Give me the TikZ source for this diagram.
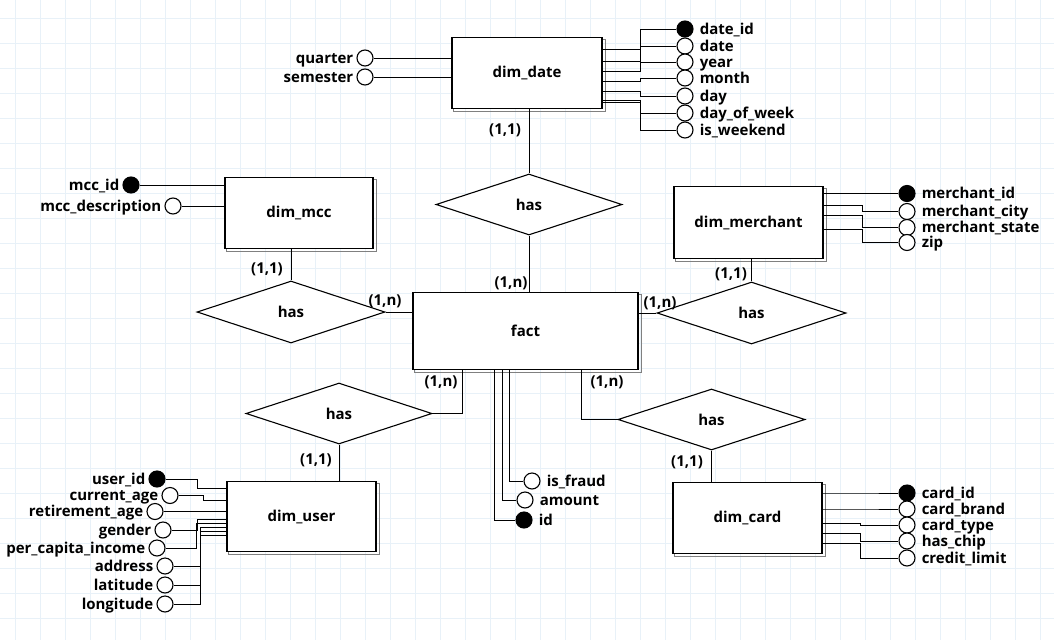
\documentclass[tikz,border=0pt]{standalone}
\usepackage{fontspec}
\IfFontExistsTF{Noto Sans Bold}
  {\setmainfont{Noto Sans}[BoldFont={Noto Sans Bold}]}
  {\IfFontExistsTF{Open Sans Bold}
    {\setmainfont{Open Sans}[BoldFont={Open Sans Bold}]}
    {\setmainfont{Noto Sans}[BoldFont={Noto Sans}, BoldFeatures={FakeBold=2}]}}
\usetikzlibrary{shapes.geometric}
\definecolor{gridblue}{RGB}{232,241,248}
\newcommand\erfont{\fontsize{15pt}{17pt}\bfseries\selectfont}
\pgfdeclarelayer{paper}
\pgfdeclarelayer{shadowlayer}
\pgfsetlayers{paper,shadowlayer,main}

% attribute on the right / left of its owner: style, name, position, label
\newcommand\rattr[4]{\node[#1] (#2) at (#3) {};
  \node[lbl, anchor=west] (#2-l) at ([xshift=6pt]#2.east) {#4};}
\newcommand\lattr[4]{\node[#1] (#2) at (#3) {};
  \node[lbl, anchor=east] (#2-l) at ([xshift=-3pt]#2.west) {#4};}
% orthogonal attribute link: owner, y at owner, x of the vertical run, attribute
\newcommand\rlink[4]{\draw[link] (#1.east |- 0,#2) -- (#3,#2) |- (#4.west);}
\newcommand\llink[4]{\draw[link] (#1.west |- 0,#2) -- (#3,#2) |- (#4.east);}
% grey drop outline behind an entity
\newcommand\entshadow[1]{\begin{pgfonlayer}{shadowlayer}
  \draw[shade] ([shift={(2.5,2.5)}]#1.south west) rectangle ([shift={(2.5,2.5)}]#1.north east);
  \end{pgfonlayer}}

\begin{document}
\begin{tikzpicture}[x=1pt,y=-1pt,
  every node/.style={font=\erfont},
  link/.style={line width=1pt},
  gridline/.style={draw=gridblue, line width=1pt},
  entity/.style={draw, fill=white, line width=1.2pt, inner sep=0pt},
  shade/.style={draw=black!50, line width=1pt},
  rel/.style={diamond, draw, line width=1.1pt, inner sep=0pt, fill=white},
  attr/.style={circle, draw, line width=1.1pt, fill=white, minimum size=16pt, inner sep=0pt},
  keyattr/.style={attr, fill=black},
  lbl/.style={inner sep=0pt, text height=10pt, text depth=3pt, yshift=-1.5pt},
  cardlbl/.style={inner sep=0pt}
]
\useasboundingbox (0,0) rectangle (1054,640);

% squared paper
\begin{pgfonlayer}{paper}
\fill[white] (0,0) rectangle (1054,640);
\foreach \x in {15,40,...,1040} \draw[gridline] (\x,0) -- (\x,640);
\foreach \y in {18,43,...,630} \draw[gridline] (0,\y) -- (1054,\y);
\end{pgfonlayer}

% entities
\node[entity, minimum width=150pt, minimum height=71pt] (ddate) at (527,73) {dim\_date};
\node[entity, minimum width=148pt, minimum height=71pt] (dmcc) at (299,213) {dim\_mcc};
\node[entity, minimum width=149pt, minimum height=72pt] (dmer) at (748.5,222.5) {dim\_merchant};
\node[entity, minimum width=225pt, minimum height=77pt] (fact) at (525.5,331) {fact};
\node[entity, minimum width=149pt, minimum height=70pt] (duser) at (301.5,516.5) {dim\_user};
\node[entity, minimum width=149pt, minimum height=71pt] (dcard) at (747.5,518) {dim\_card};
\entshadow{ddate}\entshadow{dmcc}\entshadow{dmer}
\entshadow{fact}\entshadow{duser}\entshadow{dcard}

% relationships
\node[rel, minimum width=186pt, minimum height=61pt] (rdate) at (529,204.5) {has};
\node[rel, minimum width=188pt, minimum height=62pt] (rmcc) at (291,312) {has};
\node[rel, minimum width=189pt, minimum height=62pt] (rmer) at (751.5,313) {has};
\node[rel, minimum width=186pt, minimum height=61pt] (ruser) at (339,413.5) {has};
\node[rel, minimum width=187pt, minimum height=61pt] (rcard) at (711.5,419.5) {has};

\draw[link] (rdate.north |- ddate.south) -- (rdate.north);
\draw[link] (rdate.south) -- (rdate.south |- fact.north);
\draw[link] (rmcc.north |- dmcc.south) -- (rmcc.north);
\draw[link] (rmcc.east) -- (rmcc.east -| fact.west);
\draw[link] (rmer.north |- dmer.south) -- (rmer.north);
\draw[link] (rmer.west -| fact.east) -- (rmer.west);
\draw[link] (fact.south -| 462,0) |- (ruser.east);
\draw[link] (fact.south -| 581,0) |- (rcard.west);
\draw[link] (ruser.south) -- (ruser.south |- duser.north);
\draw[link] (rcard.south) -- (rcard.south |- dcard.north);

% cardinalities
\node[cardlbl] (k1) at (505,130) {(1,1)};
\node[cardlbl] (k2) at (511,283) {(1,n)};
\node[cardlbl] (k3) at (267,269) {(1,1)};
\node[cardlbl] (k4) at (385,301) {(1,n)};
\node[cardlbl] (k5) at (731,274) {(1,1)};
\node[cardlbl] (k6) at (660,303) {(1,n)};
\node[cardlbl] (k7) at (441,382) {(1,n)};
\node[cardlbl] (k8) at (607,382) {(1,n)};
\node[cardlbl] (k9) at (316,460) {(1,1)};
\node[cardlbl] (k10) at (687,462) {(1,1)};

% dim_date attributes
\lattr{attr}{a_quarter}{365,58}{quarter}
\lattr{attr}{a_semester}{365,77}{semester}
\draw[link] (a_quarter.east) -- (a_quarter.east -| ddate.west);
\draw[link] (a_semester.east) -- (a_semester.east -| ddate.west);
\rattr{keyattr}{a_dateid}{685,29}{date\_id}
\rattr{attr}{a_date}{685,46}{date}
\rattr{attr}{a_year}{685,62}{year}
\rattr{attr}{a_month}{685,78}{month}
\rattr{attr}{a_day}{685,96}{day}
\rattr{attr}{a_dow}{685,113}{day\_of\_week}
\rattr{attr}{a_wkend}{685,130}{is\_weekend}
\rlink{ddate}{49}{640}{a_dateid}
\rlink{ddate}{61}{640}{a_date}
\rlink{ddate}{71}{640}{a_year}
\rlink{ddate}{81}{640}{a_month}
\rlink{ddate}{91}{640}{a_day}
\rlink{ddate}{100}{640}{a_dow}
\rlink{ddate}{102}{640}{a_wkend}

% dim_mcc attributes
\lattr{keyattr}{a_mccid}{131,185}{mcc\_id}
\lattr{attr}{a_mccdesc}{173,206}{mcc\_description}
\draw[link] (a_mccid.east) -- (a_mccid.east -| dmcc.west);
\draw[link] (a_mccdesc.east) -- (a_mccdesc.east -| dmcc.west);

% dim_merchant attributes
\rattr{keyattr}{a_mid}{907,193.5}{merchant\_id}
\rattr{attr}{a_mcity}{907,211.5}{merchant\_city}
\rattr{attr}{a_mstate}{907,227.5}{merchant\_state}
\rattr{attr}{a_zip}{907,242.5}{zip}
\rlink{dmer}{193.5}{862}{a_mid}
\rlink{dmer}{205}{862}{a_mcity}
\rlink{dmer}{215}{862}{a_mstate}
\rlink{dmer}{229}{862}{a_zip}

% fact attributes
\rattr{attr}{a_fraud}{532,481}{is\_fraud}
\rattr{attr}{a_amount}{525,500}{amount}
\rattr{keyattr}{a_id}{524,520}{id}
\draw[link] (fact.south -| 509,0) |- (a_fraud.west);
\draw[link] (fact.south -| 502,0) |- (a_amount.west);
\draw[link] (fact.south -| 494,0) |- (a_id.west);

% dim_card attributes
\rattr{keyattr}{a_cid}{907,493}{card\_id}
\rattr{attr}{a_cbrand}{907,509}{card\_brand}
\rattr{attr}{a_ctype}{907,525}{card\_type}
\rattr{attr}{a_chip}{907,541}{has\_chip}
\rattr{attr}{a_climit}{907,558}{credit\_limit}
\rlink{dcard}{493}{860}{a_cid}
\rlink{dcard}{509}{860}{a_cbrand}
\rlink{dcard}{523}{860}{a_ctype}
\rlink{dcard}{533}{860}{a_chip}
\rlink{dcard}{543}{860}{a_climit}

% dim_user attributes
\lattr{keyattr}{a_uid}{157,479}{user\_id}
\lattr{attr}{a_cage}{170,495.5}{current\_age}
\lattr{attr}{a_rage}{155,511.5}{retirement\_age}
\lattr{attr}{a_gender}{163,530}{gender}
\lattr{attr}{a_pci}{157,548}{per\_capita\_income}
\lattr{attr}{a_addr}{165,566}{address}
\lattr{attr}{a_lat}{165,585}{latitude}
\lattr{attr}{a_lon}{165,604}{longitude}
\llink{duser}{488}{197}{a_uid}
\llink{duser}{500}{203}{a_cage}
\llink{duser}{511.5}{200}{a_rage}
\llink{duser}{519}{197}{a_gender}
\llink{duser}{523}{196}{a_pci}
\llink{duser}{527}{200}{a_addr}
\llink{duser}{531}{200}{a_lat}
\llink{duser}{535}{200}{a_lon}
\end{tikzpicture}
\end{document}
